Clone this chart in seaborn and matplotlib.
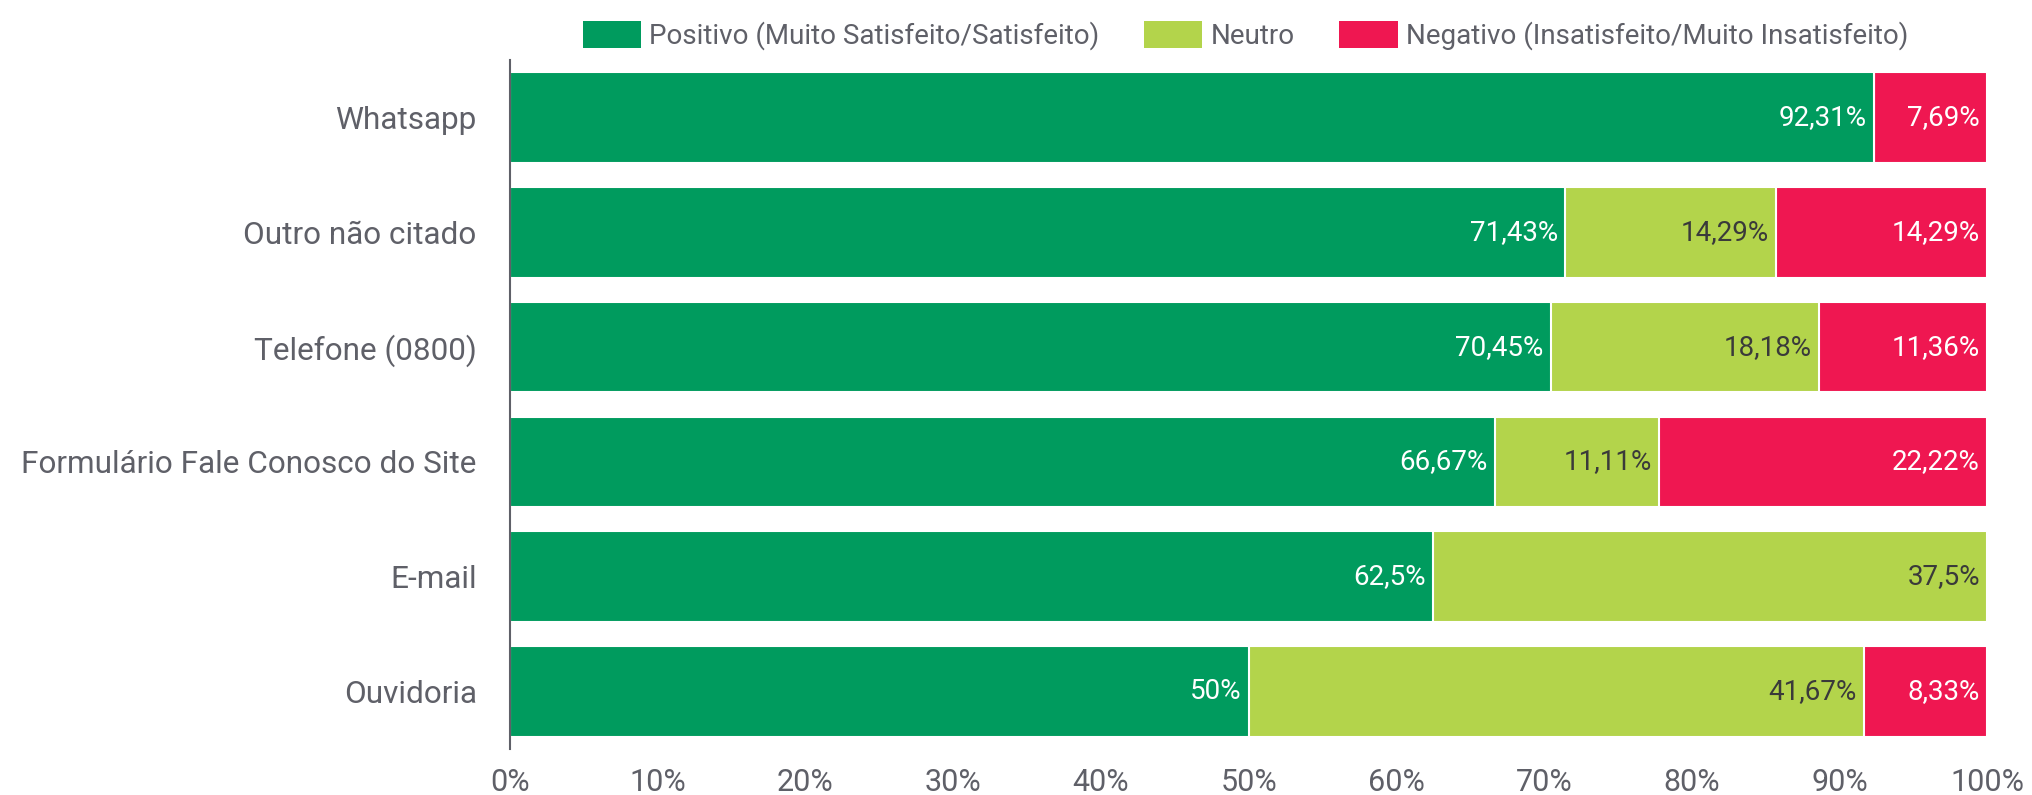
import pandas as pd
import seaborn as sns
import matplotlib.pyplot as plt
from matplotlib.patches import Patch

canais = ['Whatsapp', 'Outro não citado', 'Telefone (0800)',
          'Formulário Fale Conosco do Site', 'E-mail', 'Ouvidoria']
positivo = [92.31, 71.43, 70.45, 66.67, 62.5, 50]
neutro = [0, 14.29, 18.18, 11.11, 37.5, 41.67]
negativo = [7.69, 14.29, 11.36, 22.22, 0, 8.33]

series = ['Positivo (Muito Satisfeito/Satisfeito)', 'Neutro',
          'Negativo (Insatisfeito/Muito Insatisfeito)']
cores = ['#009B5E', '#B3D44B', '#EF1751']
cor_texto = ['white', '#3a3a3a', 'white']
cinza = '#5F6068'

df = pd.DataFrame({'canal': canais, 'pos': positivo, 'neu': neutro, 'neg': negativo})
df['c1'] = df['pos']
df['c2'] = df['pos'] + df['neu']
df['c3'] = df['c2'] + df['neg']

sns.set_theme(style='white')
plt.rcParams['font.family'] = ['Roboto', 'DejaVu Sans']

fig = plt.figure(figsize=(20.32, 7.95), dpi=100)
ax = fig.add_axes([0.251, 0.058, 0.727, 0.8665])

# stacked look: draw cumulative totals from the back to the front
for col, cor in zip(['c3', 'c2', 'c1'], cores[::-1]):
    sns.barplot(data=df, x=col, y='canal', color=cor, orient='h', width=0.79,
                edgecolor='white', linewidth=1.5, saturation=1, ax=ax)

def fmt(v):
    return f"{v:.2f}".rstrip('0').rstrip('.').replace('.', ',') + '%'

for i, row in df.iterrows():
    for val, fim, tc in zip([row.pos, row.neu, row.neg], [row.c1, row.c2, row.c3], cor_texto):
        if val > 0:
            ax.text(fim - 0.5, i, fmt(val), ha='right', va='center',
                    color=tc, fontsize=20)

ax.set_xlim(0, 100)
ax.set_ylim(5.5, -0.5)
ax.set_xticks(range(0, 101, 10))
ax.set_xticklabels([f'{t}%' for t in range(0, 101, 10)])
ax.set_xlabel('')
ax.set_ylabel('')
ax.tick_params(axis='x', length=0, pad=14, labelsize=22, labelcolor=cinza)
ax.tick_params(axis='y', length=0, pad=24, labelsize=22.7, labelcolor=cinza)
for s in ['top', 'right', 'bottom']:
    ax.spines[s].set_visible(False)
ax.spines['left'].set_color(cinza)
ax.spines['left'].set_linewidth(1.5)

handles = [Patch(facecolor=c, edgecolor='none') for c in cores]
fig.legend(handles, series, loc='center', bbox_to_anchor=(0.613, 0.955), ncol=3,
           frameon=False, fontsize=20, labelcolor=cinza, handlelength=2.1,
           handleheight=1.1, handletextpad=0.3, columnspacing=1.6)

fig.savefig('out.png', dpi=100)
